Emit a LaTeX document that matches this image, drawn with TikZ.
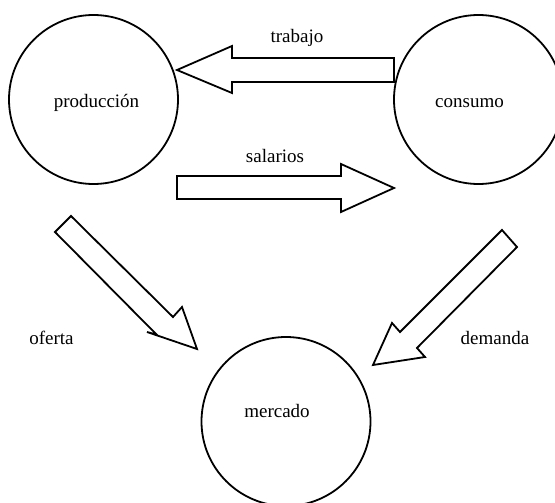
\documentclass[tikz,border=0pt]{standalone}
\usepackage{fontspec}
\setmainfont{Liberation Serif}
\begin{document}
\begin{tikzpicture}[x=1pt,y=-1pt,
  sector/.style={draw=black,line width=1.8pt,circle,minimum size=169pt,inner sep=0pt},
  flow/.style={draw=black,line width=1.8pt,line join=miter,fill=white},
  lbl/.style={font=\fontsize{19}{23}\selectfont,inner sep=0pt}]
  \useasboundingbox (0,0) rectangle (555,503);
  \clip (0,0) rectangle (555,503);
  \fill[white] (0,0) rectangle (555,503);

  % the three sectors
  \node[sector] (prod) at (93.5,99.5) {};
  \node[sector] (cons) at (478.5,99.5) {};
  \node[sector] (merc) at (286,421.5) {};
  \node[lbl] (tprod) at (96.5,103) {producción};
  \node[lbl] (tcons) at (469.5,103) {consumo};
  \node[lbl] (tmerc) at (277,410.5) {mercado};

  % trabajo: consumo -> producción
  \draw[flow] (394,58) -- (232,58) -- (232,46) -- (177,70) -- (232,93) -- (232,82) -- (394,82) -- cycle;
  \node[lbl] (ttrab) at (297,38) {trabajo};

  % salarios: producción -> consumo
  \draw[flow] (177,176) -- (341,176) -- (341,164) -- (394,188) -- (341,212) -- (341,199) -- (177,199) -- cycle;
  \node[lbl] (tsal) at (275,156) {salarios};

  % oferta: producción -> mercado
  \draw[flow] (71,216) -- (173,317) -- (182,307) -- (197,349) -- (147,332) -- (156.5,334.5) -- (55,232) -- cycle;
  \node[lbl] (tofe) at (51.5,338) {oferta};

  % demanda: consumo -> mercado
  \draw[flow] (502,230) -- (400,332) -- (392,323) -- (373,365) -- (425,357) -- (417,348) -- (517,247) -- cycle;
  \node[lbl] (tdem) at (495,338) {demanda};
\end{tikzpicture}
\end{document}
